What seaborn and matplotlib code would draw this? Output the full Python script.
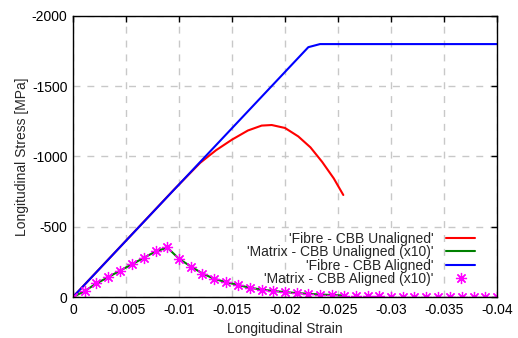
import numpy as np
import pandas as pd
import matplotlib
matplotlib.use('Agg')
import matplotlib.pyplot as plt
import seaborn as sns

# Values
fibre_unal_strain = [0, -0.0095, -0.012, -0.0135, -0.015, -0.0165, -0.0178, -0.01875,
                     -0.02, -0.02125, -0.0224, -0.0235, -0.0246, -0.0255]
fibre_unal_stress = [0, -762, -955, -1045, -1120, -1185, -1220, -1224,
                     -1203, -1143, -1065, -962, -844, -726]

fibre_al_strain = [0, -0.0222, -0.0233, -0.04]
fibre_al_stress = [0, -1778, -1800, -1800]

matrix_strain = [0, -0.0011, -0.0022, -0.0033, -0.0044, -0.0056, -0.0067, -0.0078,
                 -0.0089, -0.01, -0.0111, -0.0122, -0.0133, -0.0144, -0.0156, -0.0167,
                 -0.0178, -0.0189, -0.02, -0.0211, -0.0222, -0.0233, -0.0244, -0.0256,
                 -0.0267, -0.0278, -0.0289, -0.03, -0.0311, -0.0322, -0.0333, -0.0344,
                 -0.0356, -0.0367, -0.0378, -0.0389, -0.04]
matrix_al_stress = [0, -43, -97, -140, -187, -235, -280, -325,
                    -354, -270, -216, -166, -128, -105, -83, -62,
                    -50, -40, -33, -26, -21, -16, -12, -9,
                    -7, -5, -4, -3, -2, -2, -1, -1,
                    -1, 0, 0, 0, 0]

matrix_unal_strain = [0, -0.0011, -0.0022, -0.0033, -0.0044, -0.0056, -0.0067, -0.0078,
                      -0.0089, -0.01, -0.0111, -0.0122, -0.0133, -0.0144, -0.0156, -0.0167,
                      -0.0178, -0.0189, -0.02, -0.0211, -0.0222, -0.0233, -0.0244, -0.0255]
matrix_unal_stress = [0, -42, -96, -140, -186, -234, -280, -324,
                      -352, -272, -218, -168, -130, -106, -85, -65,
                      -53, -43, -35, -28, -23, -18, -14, -11]

x_ticks = [0, -0.005, -0.01, -0.015, -0.02, -0.025, -0.03, -0.035, -0.04]
x_tick_labels = ['0', '-0.005', '-0.01', '-0.015', '-0.02', '-0.025', '-0.03', '-0.035', '-0.04']
y_ticks = [0, -500, -1000, -1500, -2000]
y_tick_labels = ['0', '-500', '-1000', '-1500', '-2000']

sns.set_style('white')
plt.rcParams['font.family'] = ['Liberation Sans', 'DejaVu Sans']
plt.rcParams['axes.unicode_minus'] = False

fig = plt.figure(figsize=(5.18, 3.38), dpi=100)
ax = fig.add_axes([0.1409, 0.1213, 0.8186, 0.8314])

sns.lineplot(x=fibre_unal_strain, y=fibre_unal_stress, ax=ax, color='#ff0000', lw=1.5,
             sort=False, estimator=None, label="'Fibre - CBB Unaligned'")
sns.lineplot(x=matrix_unal_strain, y=matrix_unal_stress, ax=ax, color='#008000', lw=1.5,
             sort=False, estimator=None, label="'Matrix - CBB Unaligned (x10)'")
sns.lineplot(x=fibre_al_strain, y=fibre_al_stress, ax=ax, color='#0000ff', lw=1.5,
             sort=False, estimator=None, label="'Fibre - CBB Aligned'")
sns.lineplot(x=matrix_strain, y=matrix_al_stress, ax=ax, color='#ff00ff', linestyle='',
             marker=(8, 2, 0), markersize=8, markeredgewidth=0.9,
             markeredgecolor='#ff00ff', markerfacecolor='#ff00ff',
             sort=False, estimator=None, label="'Matrix - CBB Aligned (x10)'")

ax.set_xlim(0, -0.04)
ax.set_ylim(0, -2000)
ax.set_xticks(x_ticks)
ax.set_xticklabels(x_tick_labels)
ax.set_yticks(y_ticks)
ax.set_yticklabels(y_tick_labels)
ax.tick_params(direction='in', length=4, width=1, top=True, right=True,
               labelsize=10, colors='black', pad=4)
ax.grid(True, color='#c8c8c8', linestyle=(0, (5, 5)), linewidth=1)
for s in ax.spines.values():
    s.set_color('black')
    s.set_linewidth(1)
ax.set_xlabel('Longitudinal Strain', fontsize=10, labelpad=4)
ax.set_ylabel('Longitudinal Stress [MPa]', fontsize=10, labelpad=2)

leg = ax.legend(loc='lower right', bbox_to_anchor=(0.962, 0.02), frameon=False,
                markerfirst=False, fontsize=10, handlelength=2.1, handletextpad=0.9,
                labelspacing=-0.05, borderaxespad=0)

fig.savefig('out.png', dpi=100)
